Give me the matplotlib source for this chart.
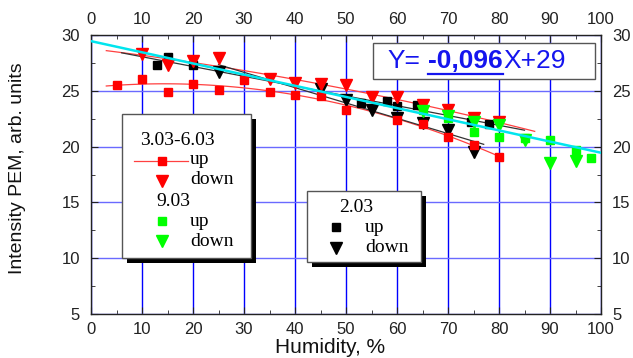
import numpy as np
import matplotlib.pyplot as plt
from matplotlib.patches import Rectangle
from matplotlib.lines import Line2D

# 3.03-6.03
red_up_x = [5, 10, 15, 20, 25, 30, 35, 40, 45, 50, 60, 65, 70, 75, 80]
red_up_y = [25.5, 26.1, 24.9, 25.6, 25.1, 26.0, 24.9, 24.6, 24.5, 23.3, 22.4, 22.0, 20.9, 20.1, 19.1]
red_down_x = [10, 15, 20, 25, 35, 40, 45, 50, 55, 60, 65, 70, 75, 80]
red_down_y = [28.3, 27.3, 27.7, 27.9, 26.1, 25.7, 25.6, 25.5, 24.4, 24.4, 23.7, 23.3, 22.6, 22.2]
# 9.03
green_up_x = [65, 70, 75, 80, 85, 90, 95, 98]
green_up_y = [23.3, 22.6, 21.3, 20.9, 20.8, 20.6, 19.7, 19.0]
green_down_x = [65, 70, 75, 80, 85, 90, 95]
green_down_y = [23.2, 22.7, 22.2, 21.9, 20.6, 18.5, 18.7]
# 2.03
black_up_x = [13, 15, 20, 53, 58, 60, 64, 74.5, 78]
black_up_y = [27.3, 28.0, 27.3, 23.9, 24.1, 23.65, 23.7, 22.2, 22.0]
black_down_x = [25, 45, 50, 55, 60, 65, 70, 75]
black_down_y = [26.7, 25.2, 24.2, 23.3, 22.6, 22.1, 21.5, 19.5]

# overall linear fit (cyan) as drawn
fit_slope = -0.1
fit_intercept = 29.45

W, H = 633, 358


def fx(x):
    return x / W


def fy(y):
    return 1 - y / H


fig = plt.figure(figsize=(W / 100, H / 100), dpi=100)
ax = fig.add_axes([fx(91), fy(314), (601 - 91) / W, (314 - 35) / H])

ax.set_xlim(0, 100)
ax.set_ylim(5, 30)
ax.set_xticks(range(0, 101, 10))
ax.set_xticks(range(5, 100, 10), minor=True)
ax.set_yticks(range(5, 31, 5))
ax.set_yticks(np.arange(7.5, 30, 5), minor=True)
ax.xaxis.grid(True, which='major', color='#0000ff', lw=1)
ax.yaxis.grid(True, which='major', color='#6a6aff', lw=1)
ax.set_axisbelow(True)
for s in ax.spines.values():
    s.set_color('#222222')
    s.set_linewidth(1)

ax.tick_params(which='both', direction='in', top=True, right=True,
               labeltop=True, labelright=True, colors='#222222')
ax.tick_params(which='major', length=5)
ax.tick_params(which='minor', length=3)
ax.tick_params(axis='x', which='major', labelsize=12)
ax.tick_params(axis='y', which='major', labelsize=12)
for lab in ax.get_xticklabels() + ax.get_yticklabels():
    lab.set_family('Liberation Sans')
ax.tick_params(axis='x', pad=6)
ax.tick_params(axis='y', pad=8)


def fit_line(x, y, deg, x0, x1):
    p = np.polyfit(x, y, deg)
    xs = np.linspace(x0, x1, 100)
    return xs, np.polyval(p, xs)


# fitted curves behind the points
xs, ys = fit_line(red_up_x, red_up_y, 2, 3, 80)
ax.plot(xs, ys, color='#ff4040', lw=0.9, zorder=2)
xs, ys = fit_line(red_down_x, red_down_y, 2, 3, 87)
ax.plot(xs, ys, color='#ff4040', lw=0.9, zorder=2)
xs, ys = fit_line(black_up_x, black_up_y, 1, 6, 85)
ax.plot(xs, ys, color='#333333', lw=0.9, zorder=2)
xs, ys = fit_line(black_down_x, black_down_y, 1, 25, 77)
ax.plot(xs, ys, color='#333333', lw=0.9, zorder=2)

ax.plot(black_up_x, black_up_y, 's', color='black', ms=6, zorder=3)
ax.plot(black_down_x, black_down_y, 'v', color='black', ms=8, zorder=3)
ax.plot(red_up_x, red_up_y, 's', color='#ff0000', ms=6, zorder=4)
ax.plot(red_down_x, red_down_y, 'v', color='#ff0000', ms=8, zorder=4)
ax.plot(green_up_x, green_up_y, 's', color='#00ff00', ms=6, zorder=5)
ax.plot(green_down_x, green_down_y, 'v', color='#00ff00', ms=8, zorder=5)

xl = np.array([0, 100])
ax.plot(xl, fit_intercept + fit_slope * xl, color='#00e5ee', lw=1.8, zorder=6)

# axis labels
fig.text(fx(330), fy(357), 'Humidity, %', ha='center', va='bottom',
         fontsize=15, family='Liberation Sans', color='#111111')
fig.text(fx(18), fy(168), 'Intensity PEM, arb. units', ha='center', va='center',
         rotation=90, fontsize=14, family='Liberation Sans', color='#111111')


# legend boxes drawn Origin style
def box(left, top, right, bottom, shadow=True):
    if shadow:
        fig.add_artist(Rectangle((fx(left + 5), fy(bottom + 5)), (right - left) / W,
                                 (bottom - top) / H, transform=fig.transFigure,
                                 facecolor='black', edgecolor='none', zorder=10))
    fig.add_artist(Rectangle((fx(left), fy(bottom)), (right - left) / W,
                             (bottom - top) / H, transform=fig.transFigure,
                             facecolor='white', edgecolor='#555555', lw=1, zorder=11))


def mark(x, y, marker, color, ms):
    fig.add_artist(Line2D([fx(x)], [fy(y)], marker=marker, color=color, ms=ms,
                          ls='none', transform=fig.transFigure, zorder=12))


def ltext(x, y, s):
    fig.text(fx(x), fy(y), s, ha='left', va='center', fontsize=14,
             family='Liberation Serif', zorder=12)


box(122, 114, 251, 258)
ltext(140, 141, '3.03-6.03')
fig.add_artist(Line2D([fx(134), fx(188)], [fy(161), fy(161)], color='#ff4040', lw=0.9,
                      transform=fig.transFigure, zorder=12))
mark(162, 161, 's', '#ff0000', 6)
ltext(190, 160, 'up')
mark(162, 181, 'v', '#ff0000', 8)
ltext(190, 180, 'down')
ltext(156, 201, '9.03')
mark(162, 221, 's', '#00ff00', 6)
ltext(190, 221, 'up')
mark(162, 241, 'v', '#00ff00', 8)
ltext(190, 241, 'down')

box(307, 191, 421, 262)
ltext(339, 207, '2.03')
mark(336, 227, 's', 'black', 6)
ltext(365, 227, 'up')
mark(336, 248, 'v', 'black', 8)
ltext(365, 248, 'down')

# equation box
box(373, 43, 595, 79, shadow=False)
eq_color = '#1515ee'
fig.canvas.draw()
r = fig.canvas.get_renderer()
t1 = fig.text(fx(387), fy(61), 'Y=', color=eq_color, fontsize=19, va='center',
              family='Liberation Sans', zorder=12)
b1 = t1.get_window_extent(r)
t2 = fig.text((b1.x1 + 8) / W, fy(61), '-0,096', color=eq_color, fontsize=19,
              va='center', fontweight='bold', family='Liberation Sans', zorder=12)
b2 = t2.get_window_extent(r)
fig.add_artist(Line2D([b2.x0 / W, b2.x1 / W], [(b2.y0 - 1) / H, (b2.y0 - 1) / H],
                      color=eq_color, lw=1.6, transform=fig.transFigure, zorder=12))
t3 = fig.text((b2.x1 + 1) / W, fy(61), 'X+29', color=eq_color, fontsize=19, va='center',
              family='Liberation Sans', zorder=12)

fig.savefig('out.png', dpi=100)
